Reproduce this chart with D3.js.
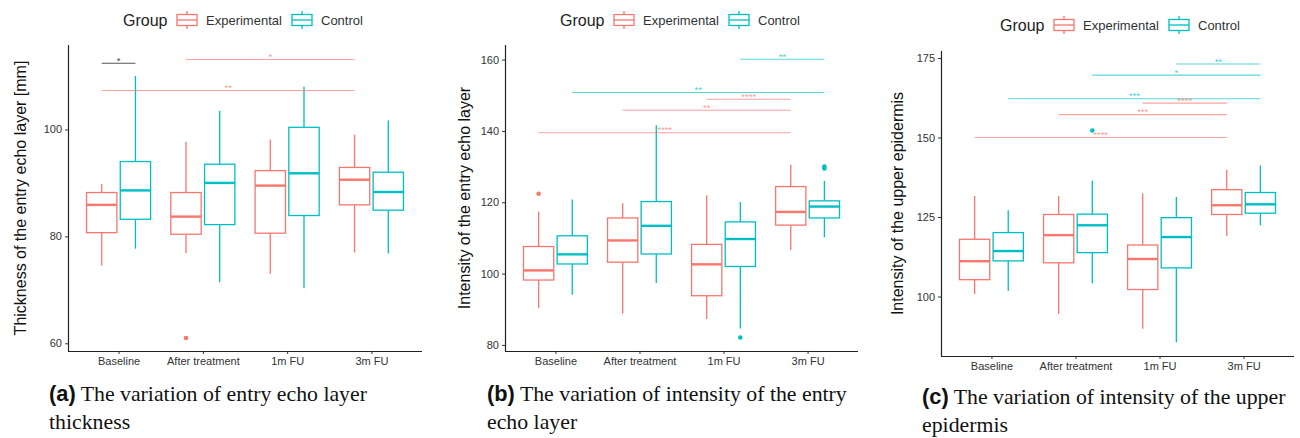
<!DOCTYPE html>
<html>
<head>
<meta charset="utf-8">
<script src="https://cdn.jsdelivr.net/npm/d3@7"></script>
<style>
body { margin: 0; background: #fff; }
text { font-family: "Liberation Sans", Arial, sans-serif; }
</style>
</head>
<body>
<svg id="fig"></svg>
<script>
const categories = ["Baseline", "After treatment", "1m FU", "3m FU"];
const groups = ["Experimental", "Control"];
const groupColors = ["#F8766D", "#00BFC4"];

// box stats per category: [lower whisker, Q1, median, Q3, upper whisker]
const thickExp  = [[74.5, 80.7, 85.9, 88.2, 89.8], [76.9, 80.4, 83.7, 88.2, 97.7], [73.0, 80.6, 89.5, 92.3, 98.1], [77.0, 85.9, 90.6, 92.9, 99.0]];
const thickCtrl = [[77.7, 83.2, 88.6, 94.0, 110.0], [71.4, 82.2, 90.0, 93.5, 103.5], [70.3, 83.9, 91.8, 100.4, 108.0], [76.8, 84.9, 88.3, 92.0, 101.7]];
const thickOut  = [{ cat: 1, grp: 0, v: 61.0 }];
// significance bars: from [cat, grp] to [cat, grp]; grp -1 = neutral
const thickSig  = [
    { a: [0, 0], b: [0, 1], y: 112.4, label: "*", grp: -1 },
    { a: [1, 0], b: [3, 0], y: 113.1, label: "*", grp: 0 },
    { a: [0, 0], b: [3, 0], y: 107.3, label: "**", grp: 0 }
];

const entryExp  = [[90.4, 98.2, 100.9, 107.6, 117.4], [88.8, 103.2, 109.3, 115.6, 119.7], [87.3, 93.8, 102.6, 108.2, 122.0], [106.6, 113.6, 117.3, 124.4, 130.5]];
const entryCtrl = [[94.1, 102.7, 105.4, 110.6, 120.8], [97.4, 105.5, 113.4, 120.2, 141.6], [84.6, 102.0, 109.7, 114.5, 120.1], [110.2, 115.6, 118.8, 120.4, 126.0]];
const entryOut  = [{ cat: 0, grp: 0, v: 122.4 }, { cat: 2, grp: 1, v: 82.1 }, { cat: 3, grp: 1, v: 129.5 }, { cat: 3, grp: 1, v: 130.0 }];
const entrySig  = [
    { a: [2, 1], b: [3, 1], y: 160.1, label: "**", grp: 1 },
    { a: [0, 1], b: [3, 1], y: 150.8, label: "**", grp: 1 },
    { a: [2, 0], b: [3, 0], y: 148.9, label: "****", grp: 0 },
    { a: [1, 0], b: [3, 0], y: 145.8, label: "**", grp: 0 },
    { a: [0, 0], b: [3, 0], y: 139.5, label: "****", grp: 0 }
];

const upperExp  = [[100.8, 105.3, 111.1, 118.0, 131.6], [94.5, 110.6, 119.3, 125.8, 131.6], [89.9, 102.2, 111.8, 116.2, 132.5], [119.0, 125.8, 128.7, 133.6, 139.9]];
const upperCtrl = [[101.7, 111.2, 114.3, 120.1, 127.1], [104.2, 113.8, 122.4, 125.9, 136.4], [85.6, 109.0, 118.7, 124.8, 131.3], [122.4, 126.2, 129.0, 132.7, 141.2]];
const upperOut  = [{ cat: 1, grp: 1, v: 152.2 }];
const upperSig  = [
    { a: [2, 1], b: [3, 1], y: 173.1, label: "**", grp: 1 },
    { a: [1, 1], b: [3, 1], y: 169.6, label: "*", grp: 1 },
    { a: [0, 1], b: [3, 1], y: 162.2, label: "***", grp: 1 },
    { a: [2, 0], b: [3, 0], y: 160.8, label: "****", grp: 0 },
    { a: [1, 0], b: [3, 0], y: 157.2, label: "***", grp: 0 },
    { a: [0, 0], b: [3, 0], y: 150.0, label: "****", grp: 0 }
];

const thickTicks = [60, 80, 100];
const entryTicks = [80, 100, 120, 140, 160];
const upperTicks = [100, 125, 150, 175];

const svg = d3.select("#fig").attr("width", 1300).attr("height", 438);
const SERIF = "'Liberation Serif', 'Times New Roman', serif";
const SANS = "'Liberation Sans', Arial, sans-serif";

function drawPanel(p) {
    const g = svg.append("g");
    const x = d3.scalePoint().domain(categories).range([p.left, p.right]).padding(0.6);
    const y = d3.scaleLinear().domain(p.domain).range([p.bottom, p.top]);
    const step = x.step();
    const off = [-0.2 * step, 0.2 * step];
    const bw = 0.36 * step;
    const cx = (c, k) => x(categories[c]) + off[k];

    // boxes
    [p.exp, p.ctrl].forEach((stats, k) => {
        const col = groupColors[k];
        const bg = g.append("g").attr("stroke", col).attr("fill", "none");
        stats.forEach((s, c) => {
            const xc = cx(c, k);
            bg.append("line").attr("x1", xc).attr("x2", xc).attr("y1", y(s[3])).attr("y2", y(s[4])).attr("stroke-width", 1.3);
            bg.append("line").attr("x1", xc).attr("x2", xc).attr("y1", y(s[1])).attr("y2", y(s[0])).attr("stroke-width", 1.3);
            bg.append("rect").attr("x", xc - bw / 2).attr("y", y(s[3]))
                .attr("width", bw).attr("height", y(s[1]) - y(s[3]))
                .attr("fill", "#fff").attr("stroke-width", 1.3);
            bg.append("line").attr("x1", xc - bw / 2).attr("x2", xc + bw / 2)
                .attr("y1", y(s[2])).attr("y2", y(s[2])).attr("stroke-width", 2.4);
        });
    });

    g.selectAll(".out").data(p.out).enter().append("circle")
        .attr("cx", d => cx(d.cat, d.grp)).attr("cy", d => y(d.v)).attr("r", 2.3)
        .attr("fill", d => groupColors[d.grp]);

    // significance bars
    p.sig.forEach(s => {
        const col = s.grp < 0 ? "#444" : groupColors[s.grp];
        const x1 = cx(s.a[0], s.a[1]), x2 = cx(s.b[0], s.b[1]);
        g.append("line").attr("x1", x1).attr("x2", x2).attr("y1", y(s.y)).attr("y2", y(s.y))
            .attr("stroke", col).attr("stroke-width", 1.1).attr("stroke-opacity", s.grp < 0 ? 0.9 : 0.65);
        g.append("text").attr("x", (x1 + x2) / 2).attr("y", y(s.y) + 0.5)
            .attr("text-anchor", "middle").attr("font-size", 9.5).attr("fill", col)
            .attr("fill-opacity", s.grp < 0 ? 1 : 0.75).text(s.label);
    });

    // axes
    const ya = g.append("g").attr("transform", `translate(${p.left},0)`)
        .call(d3.axisLeft(y).tickValues(p.ticks).tickSize(3).tickPadding(3));
    ya.select(".domain").attr("d", `M0.5,${p.top}V${p.bottom}`).attr("stroke", "#222").attr("stroke-width", 1.2);
    const xa = g.append("g").attr("transform", `translate(0,${p.bottom})`)
        .call(d3.axisBottom(x).tickSize(3).tickPadding(3));
    xa.select(".domain").attr("d", `M${p.left},0.5H${p.right}`).attr("stroke", "#222").attr("stroke-width", 1.2);
    [ya, xa].forEach(a => {
        a.selectAll(".tick line").attr("stroke", "#333");
        a.selectAll(".tick text").attr("fill", "#333").attr("font-size", 11).style("font-family", SANS);
    });

    g.append("text").attr("transform", `translate(${p.titleX},${(p.top + p.bottom) / 2}) rotate(-90)`)
        .attr("text-anchor", "middle").attr("dominant-baseline", "central")
        .attr("font-size", 16).attr("fill", "#111").text(p.title);

    // legend
    const lg = g.append("g").attr("transform", `translate(${p.legX},${p.legY})`);
    lg.append("text").attr("x", 0).attr("y", 0).attr("dominant-baseline", "central")
        .attr("font-size", 16).attr("fill", "#222").text("Group");
    [54, 169].forEach((kx, k) => {
        const col = groupColors[k];
        const key = lg.append("g").attr("stroke", col).attr("fill", "none").attr("stroke-width", 1.3);
        key.append("line").attr("x1", kx + 10).attr("x2", kx + 10).attr("y1", -9).attr("y2", 9);
        key.append("rect").attr("x", kx).attr("y", -5.5).attr("width", 20).attr("height", 11).attr("fill", "#fff");
        key.append("line").attr("x1", kx).attr("x2", kx + 20).attr("y1", 0).attr("y2", 0);
        lg.append("text").attr("x", kx + 29).attr("y", 0).attr("dominant-baseline", "central")
            .attr("font-size", 13).attr("fill", "#333").text(groups[k]);
    });

    // caption
    const cap = svg.append("g").attr("transform", `translate(${p.capX},${p.capY})`);
    const t1 = cap.append("text").attr("x", 0).attr("y", 0).attr("font-size", 21.8).attr("fill", "#111");
    t1.append("tspan").attr("font-weight", "bold").style("font-family", SANS).text(p.capTag);
    t1.append("tspan").style("font-family", SERIF).text(" " + p.cap[0]);
    cap.append("text").attr("x", 0).attr("y", 28).attr("font-size", 21.8).attr("fill", "#111")
        .style("font-family", SERIF).text(p.cap[1]);
}

drawPanel({
    left: 68, right: 422, top: 45, bottom: 351, domain: [58.56, 115.8], ticks: thickTicks,
    exp: thickExp, ctrl: thickCtrl, out: thickOut, sig: thickSig,
    title: "Thickness of the entry echo layer [mm]", titleX: 20, legX: 123, legY: 20,
    capX: 49, capY: 401, capTag: "(a)", cap: ["The variation of entry echo layer", "thickness"]
});
drawPanel({
    left: 505, right: 858, top: 45, bottom: 351, domain: [78.3, 164.1], ticks: entryTicks,
    exp: entryExp, ctrl: entryCtrl, out: entryOut, sig: entrySig,
    title: "Intensity of the entry echo layer", titleX: 464, legX: 560, legY: 20,
    capX: 487, capY: 401, capTag: "(b)", cap: ["The variation of intensity of the entry", "echo layer"]
});
drawPanel({
    left: 941, right: 1294, top: 51, bottom: 356, domain: [81.3, 177.2], ticks: upperTicks,
    exp: upperExp, ctrl: upperCtrl, out: upperOut, sig: upperSig,
    title: "Intensity of the upper epidermis", titleX: 897, legX: 1000, legY: 25,
    capX: 922, capY: 404, capTag: "(c)", cap: ["The variation of intensity of the upper", "epidermis"]
});
</script>
</body>
</html>
